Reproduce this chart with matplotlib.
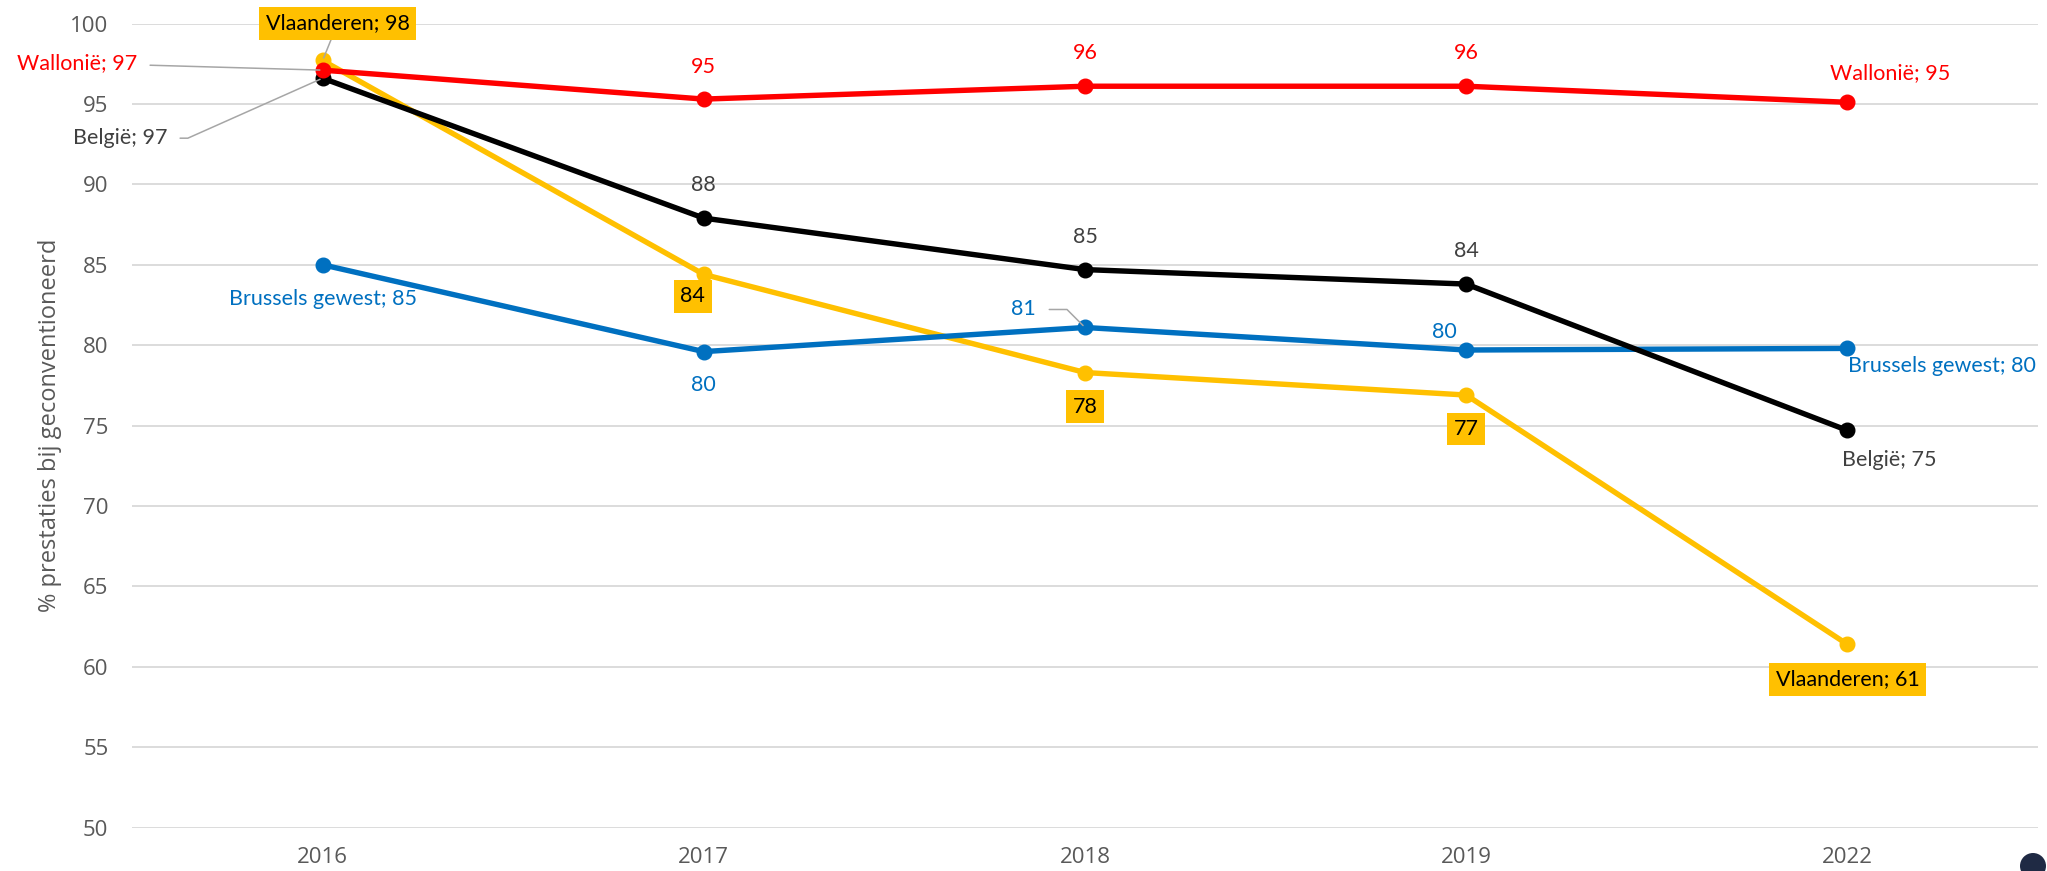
import matplotlib
matplotlib.use("Agg")
import matplotlib.pyplot as plt
from matplotlib.patches import Ellipse

years = ["2016", "2017", "2018", "2019", "2022"]
wallonie = [97.1, 95.3, 96.1, 96.1, 95.1]
belgie = [96.6, 87.9, 84.7, 83.8, 74.7]
vlaanderen = [97.7, 84.4, 78.3, 76.9, 61.4]
brussel = [85.0, 79.6, 81.1, 79.7, 79.8]
y_ticks = [50, 55, 60, 65, 70, 75, 80, 85, 90, 95, 100]
y_label = "% prestaties bij geconventioneerd"

RED = "#FF0000"
BLACK = "#000000"
YELLOW = "#FFC000"
BLUE = "#0070C0"
GREY_TXT = "#404040"
TICK = "#595959"
LEADER = "#A6A6A6"
LBL_FONT = ["Lato", "DejaVu Sans"]
TICK_FONT = ["Open Sans", "DejaVu Sans"]

W, H = 2047, 871
fig = plt.figure(figsize=(W / 100, H / 100), dpi=100)
ax = fig.add_axes([132 / W, 1 - 827.7 / H, (2038 - 132) / W, (827.7 - 23.5) / H])

x = list(range(len(years)))
series = [
    ("Wallonië", wallonie, RED),
    ("België", belgie, BLACK),
    ("Vlaanderen", vlaanderen, YELLOW),
    ("Brussels gewest", brussel, BLUE),
]
z = {"Vlaanderen": 3, "Brussels gewest": 4, "België": 5, "Wallonië": 6}
for name, vals, col in series:
    ax.plot(x, vals, color=col, lw=3.9, marker="o", ms=10.5, zorder=z[name],
            solid_capstyle="round")

ax.set_xlim(-0.5, len(years) - 0.5)
ax.set_ylim(50, 100)
ax.set_yticks(y_ticks)
ax.set_xticks(x)
ax.set_xticklabels(years)
for s in ax.spines.values():
    s.set_visible(False)
ax.grid(axis="y", color="#D9D9D9", lw=1.3, zorder=0)
ax.set_axisbelow(True)
ax.tick_params(axis="both", length=0, colors=TICK, labelsize=16)
ax.tick_params(axis="y", pad=17)
ax.tick_params(axis="x", pad=14)
for lab_ in ax.get_xticklabels() + ax.get_yticklabels():
    lab_.set_fontfamily(TICK_FONT)

fig.text(50 / W, 1 - 425 / H, y_label, rotation=90, ha="center", va="center",
         color=TICK, fontsize=17, family=TICK_FONT)


def lab(i, v, text, dx, dy, color, ha="center", box=False, leader=None,
        conn="arc3"):
    kw = dict(textcoords="offset pixels", ha=ha, va="center", color=color,
              fontsize=15.5, family=LBL_FONT, zorder=10)
    if box:
        kw["bbox"] = dict(boxstyle="square,pad=0.3", fc=YELLOW, ec="none")
    if leader is not None:
        kw["arrowprops"] = dict(arrowstyle="-", color=LEADER, lw=1.1,
                                shrinkA=leader, shrinkB=2, connectionstyle=conn)
    ax.annotate(text, (i, v), xytext=(dx, dy), **kw)


# Wallonië
lab(0, wallonie[0], f"Wallonië; {wallonie[0]:.0f}", -185, 7, RED, ha="right", leader=7)
lab(1, wallonie[1], f"{wallonie[1]:.0f}", 0, 32, RED)
lab(2, wallonie[2], f"{wallonie[2]:.0f}", 0, 33, RED)
lab(3, wallonie[3], f"{wallonie[3]:.0f}", 0, 33, RED)
lab(4, wallonie[4], f"Wallonië; {wallonie[4]:.0f}", 43, 29, RED)

# België
lab(0, belgie[0], f"België; {belgie[0]:.0f}", -155, -60, GREY_TXT, ha="right",
    leader=7, conn="angle,angleA=0,angleB=24,rad=0")
lab(1, belgie[1], f"{belgie[1]:.0f}", 0, 33, GREY_TXT)
lab(2, belgie[2], f"{belgie[2]:.0f}", 0, 33, GREY_TXT)
lab(3, belgie[3], f"{belgie[3]:.0f}", 0, 33, GREY_TXT)
lab(4, belgie[4], f"België; {belgie[4]:.0f}", 42, -30, GREY_TXT)

# Vlaanderen
lab(0, vlaanderen[0], f"Vlaanderen; {vlaanderen[0]:.0f}", 15, 37, BLACK, box=True, leader=0)
lab(1, vlaanderen[1], f"{vlaanderen[1]:.0f}", -11, -22, BLACK, box=True)
lab(2, vlaanderen[2], f"{vlaanderen[2]:.0f}", 0, -34, BLACK, box=True)
lab(3, vlaanderen[3], f"{vlaanderen[3]:.0f}", 0, -34, BLACK, box=True)
lab(4, vlaanderen[4], f"Vlaanderen; {vlaanderen[4]:.0f}", 0, -35, BLACK, box=True)

# Brussels
lab(0, brussel[0], f"Brussels gewest; {brussel[0]:.0f}", 0, -34, BLUE)
lab(1, brussel[1], f"{brussel[1]:.0f}", 0, -33, BLUE)
lab(2, brussel[2], f"{brussel[2]:.0f}", -62, 18, BLUE, leader=8,
    conn="angle,angleA=0,angleB=-45,rad=0")
lab(3, brussel[3], f"{brussel[3]:.0f}", -22, 18, BLUE)
lab(4, brussel[4], f"Brussels gewest; {brussel[4]:.0f}", 1, -18, BLUE, ha="left")

fig.add_artist(Ellipse((2033 / W, 1 - 866 / H), 26 / W, 26 / H,
                       transform=fig.transFigure, fc="#1F2A44", ec="none"))

fig.savefig("out.png", dpi=100)
